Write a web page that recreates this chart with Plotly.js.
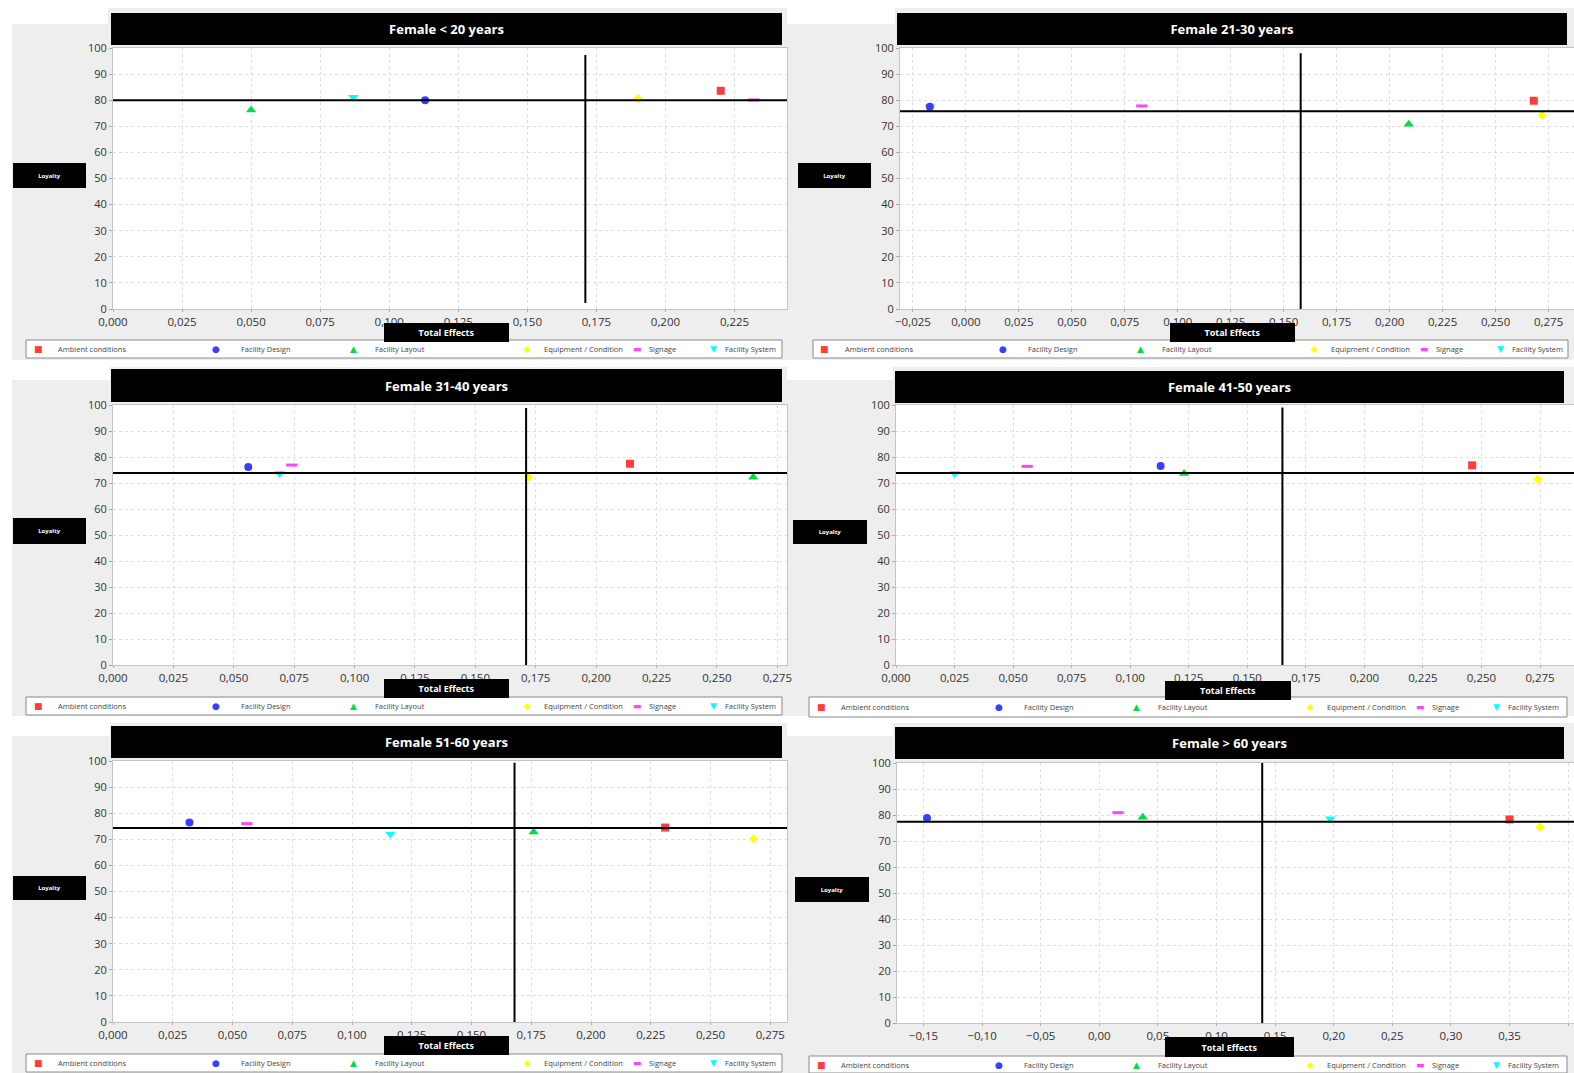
<!DOCTYPE html>
<html>
<head>
<meta charset="utf-8">
<script src="https://cdn.plot.ly/plotly-3.0.1.min.js"></script>
<style>html,body{margin:0;padding:0;background:#eeeeee;}#chart{width:1574px;height:1073px;}</style>
</head>
<body>
<div id="chart"></div>
<script>
// ---------------- DATA ----------------
const panelTitles = ["Female < 20 years", "Female 21-30 years", "Female 31-40 years",
                     "Female 41-50 years", "Female 51-60 years", "Female > 60 years"];
const factors = ["Ambient conditions", "Facility Design", "Facility Layout",
                 "Equipment / Condition", "Signage", "Facility System"];
const xAxisLabel = "Total Effects";
const yAxisLabel = "Loyalty";

// Total effects (importance) per factor, in the order of `factors`
const effectsLt20  = [0.220, 0.113, 0.050, 0.190, 0.232, 0.087];
const effects21_30 = [0.268, -0.017, 0.209, 0.272, 0.083, -0.017];
const effects31_40 = [0.214, 0.056, 0.265, 0.172, 0.074, 0.069];
const effects41_50 = [0.246, 0.113, 0.123, 0.274, 0.056, 0.025];
const effects51_60 = [0.231, 0.032, 0.176, 0.268, 0.056, 0.116];
const effectsGt60  = [0.350, -0.147, 0.037, 0.376, 0.016, 0.197];

// Loyalty (performance) per factor
const loyaltyLt20  = [83.6, 80.0, 76.2, 80.6, 80.1, 81.1];
const loyalty21_30 = [79.8, 77.5, 70.8, 74.2, 77.8, 77.5];
const loyalty31_40 = [77.4, 76.2, 72.2, 72.3, 76.9, 73.7];
const loyalty41_50 = [76.8, 76.5, 73.7, 71.4, 76.4, 73.7];
const loyalty51_60 = [74.5, 76.4, 72.8, 70.2, 76.0, 72.0];
const loyaltyGt60  = [78.3, 78.8, 79.1, 75.3, 80.9, 78.6];

// Quadrant reference lines (mean importance / mean performance)
const meanEffects = [0.171, 0.158, 0.171, 0.165, 0.168, 0.139];
const meanLoyalty = [80.0, 75.8, 73.8, 73.8, 74.3, 77.4];

const panelEffects = [effectsLt20, effects21_30, effects31_40, effects41_50, effects51_60, effectsGt60];
const panelLoyalty = [loyaltyLt20, loyalty21_30, loyalty31_40, loyalty41_50, loyalty51_60, loyaltyGt60];

// ---------------- STYLE / LAYOUT ----------------
const W = 1574, H = 1073;
const px = x => x / W;
const py = y => 1 - y / H;

const symbols = ['square', 'circle', 'triangle-up', 'diamond', 'line-ew', 'triangle-down'];
const colors  = ['#ff3c3c', '#3c3cff', '#00dd44', '#ffff00', '#ff44ff', '#00ffff'];
const sizes   = [8, 8, 9, 7, 8, 9];
const glyphs  = ['\u25A0', '\u25CF', '\u25B2', '\u25C6', '\u25AC', '\u25BC'];
const drawOrder = [5, 0, 1, 2, 3, 4];
const legendMarkerOff = [12, 190, 327, 501, 611, 687];
const legendTextOff   = [30, 213, 347, 516, 621, 697];

const geom = [
  {plot:[113,787,48,309],  title:[111,782,13,45],   loy:[13,86,163,188],  te:[384,509,323,342],   leg:[26,782,340,358],   range:[0,0.244],        dtick:0.025, fmt:'.3f', vspan:[2.3,97.3]},
  {plot:[900,1574,48,309], title:[897,1567,13,45],  loy:[798,871,163,188], te:[1170,1295,323,342], leg:[813,1568,340,358], range:[-0.0311,0.287],  dtick:0.025, fmt:'.3f', vspan:[-2,98]},
  {plot:[113,787,405,665], title:[111,782,369,402], loy:[13,86,518,544],  te:[384,509,679,698],   leg:[26,782,697,715],   range:[0,0.279],        dtick:0.025, fmt:'.3f', vspan:[-1,98.8]},
  {plot:[896,1574,405,665],title:[895,1564,371,403],loy:[793,867,520,544], te:[1165,1291,681,700], leg:[809,1567,697,717], range:[0,0.2895],       dtick:0.025, fmt:'.3f', vspan:[-1,99]},
  {plot:[113,787,761,1022],title:[111,782,726,758], loy:[13,86,876,900],  te:[384,509,1036,1055], leg:[26,782,1054,1072], range:[0,0.282],        dtick:0.025, fmt:'.3f', vspan:[0,99.3]},
  {plot:[897,1574,763,1023],title:[895,1564,727,759],loy:[795,869,877,902],te:[1165,1294,1037,1057],leg:[809,1567,1056,1073],range:[-0.1726,0.405], dtick:0.05,  fmt:'.2f', vspan:[0,100]}
];

const FONT = 'Open Sans, Liberation Sans, sans-serif';

const layout = {
  width: W, height: H,
  margin: {l:0, r:0, t:0, b:0},
  paper_bgcolor: '#eeeeee',
  plot_bgcolor: '#ffffff',
  separators: ',.',
  showlegend: false,
  font: {family: FONT},
  shapes: [],
  annotations: []
};

// white background bands around panels (page background)
const whiteRects = [
  [0, W, 0, 8], [0, 12, 0, H], [0, W, 360, 367], [0, W, 716, 723],
  [12, 108, 8, 24], [787, 895, 0, 24],
  [12, 110, 360, 380], [787, 893, 360, 380],
  [12, 110, 716, 736], [787, 893, 716, 736]
];
whiteRects.forEach(r => layout.shapes.push({
  type:'rect', xref:'paper', yref:'paper', layer:'below',
  x0:px(r[0]), x1:px(r[1]), y0:py(r[3]), y1:py(r[2]),
  fillcolor:'#ffffff', line:{width:0}
}));

const traces = [];

geom.forEach((g, i) => {
  const s = i === 0 ? '' : String(i + 1);
  const [x0, x1, yt, yb] = g.plot;
  layout['xaxis' + s] = {
    domain: [px(x0), px(x1)], range: g.range, anchor: 'y' + s,
    tick0: 0, dtick: g.dtick, tickformat: g.fmt,
    showgrid: true, gridcolor: '#dedede', griddash: 'dot', gridwidth: 1,
    zeroline: false, showline: true, linecolor: '#c4c4c4', mirror: true,
    ticks: 'outside', ticklen: 2, tickcolor: '#aaaaaa', ticklabelstandoff: 0,
    tickfont: {size: 11.5, color: '#333333', family: FONT},
    fixedrange: true
  };
  layout['yaxis' + s] = {
    domain: [py(yb), py(yt)], range: [0, 100], anchor: 'x' + s,
    tick0: 0, dtick: 10,
    showgrid: true, gridcolor: '#dedede', griddash: 'dot', gridwidth: 1,
    zeroline: false, showline: true, linecolor: '#c4c4c4', mirror: true,
    ticks: 'outside', ticklen: 3, tickcolor: '#aaaaaa',
    tickfont: {size: 11, color: '#333333', family: FONT},
    fixedrange: true
  };

  // quadrant lines
  layout.shapes.push({
    type:'line', xref:'x' + s, yref:'y' + s,
    x0: meanEffects[i], x1: meanEffects[i], y0: g.vspan[0], y1: g.vspan[1],
    line:{color:'#000000', width:2}
  });
  layout.shapes.push({
    type:'line', xref:'x' + s + ' domain', yref:'y' + s,
    x0: 0, x1: 1, y0: meanLoyalty[i], y1: meanLoyalty[i],
    line:{color:'#000000', width:2}
  });

  // markers
  drawOrder.forEach(f => {
    const isLine = symbols[f] === 'line-ew';
    traces.push({
      type: 'scatter', mode: 'markers',
      x: [panelEffects[i][f]], y: [panelLoyalty[i][f]],
      xaxis: 'x' + s, yaxis: 'y' + s,
      name: factors[f],
      marker: isLine
        ? {symbol: symbols[f], size: sizes[f], line: {color: colors[f], width: 3}}
        : {symbol: symbols[f], size: sizes[f], color: colors[f], line: {width: 0}},
      hovertemplate: factors[f] + '<br>%{x}<br>%{y}<extra></extra>'
    });
  });

  // black label boxes
  const box = (b, text, size, bold) => ({
    xref:'paper', yref:'paper',
    x: px((b[0] + b[1]) / 2), y: py((b[2] + b[3]) / 2),
    xanchor:'center', yanchor:'middle', showarrow:false,
    text: bold ? '<b>' + text + '</b>' : text,
    bgcolor:'#000000', width: b[1] - b[0], height: b[3] - b[2],
    borderpad: 0, borderwidth: 0,
    font: {color:'#ffffff', size: size, family: FONT}
  });
  layout.annotations.push(box(g.title, panelTitles[i], 13, true));
  layout.annotations.push(box(g.loy, yAxisLabel, 6, true));

  // legend box
  const L = g.leg;
  layout.shapes.push({
    type:'rect', xref:'paper', yref:'paper',
    x0:px(L[0]), x1:px(L[1]), y0:py(L[3]), y1:py(L[2]),
    fillcolor:'#ffffff', line:{color:'#8a8a8a', width:1}
  });
  const ly = py((L[2] + L[3]) / 2);
  factors.forEach((name, f) => {
    layout.annotations.push({
      xref:'paper', yref:'paper', x: px(L[0] + legendMarkerOff[f]), y: ly,
      xanchor:'center', yanchor:'middle', showarrow:false,
      text: glyphs[f], font:{color: colors[f], size: 9, family:'DejaVu Sans'}
    });
    layout.annotations.push({
      xref:'paper', yref:'paper', x: px(L[0] + legendTextOff[f]), y: ly,
      xanchor:'left', yanchor:'middle', showarrow:false,
      text: name, font:{color:'#444444', size: 7.5, family: FONT}
    });
  });
  layout.annotations.push(box(g.te, xAxisLabel, 9, true));
});

Plotly.newPlot('chart', traces, layout, {displayModeBar: false, staticPlot: true});
</script>
</body>
</html>
